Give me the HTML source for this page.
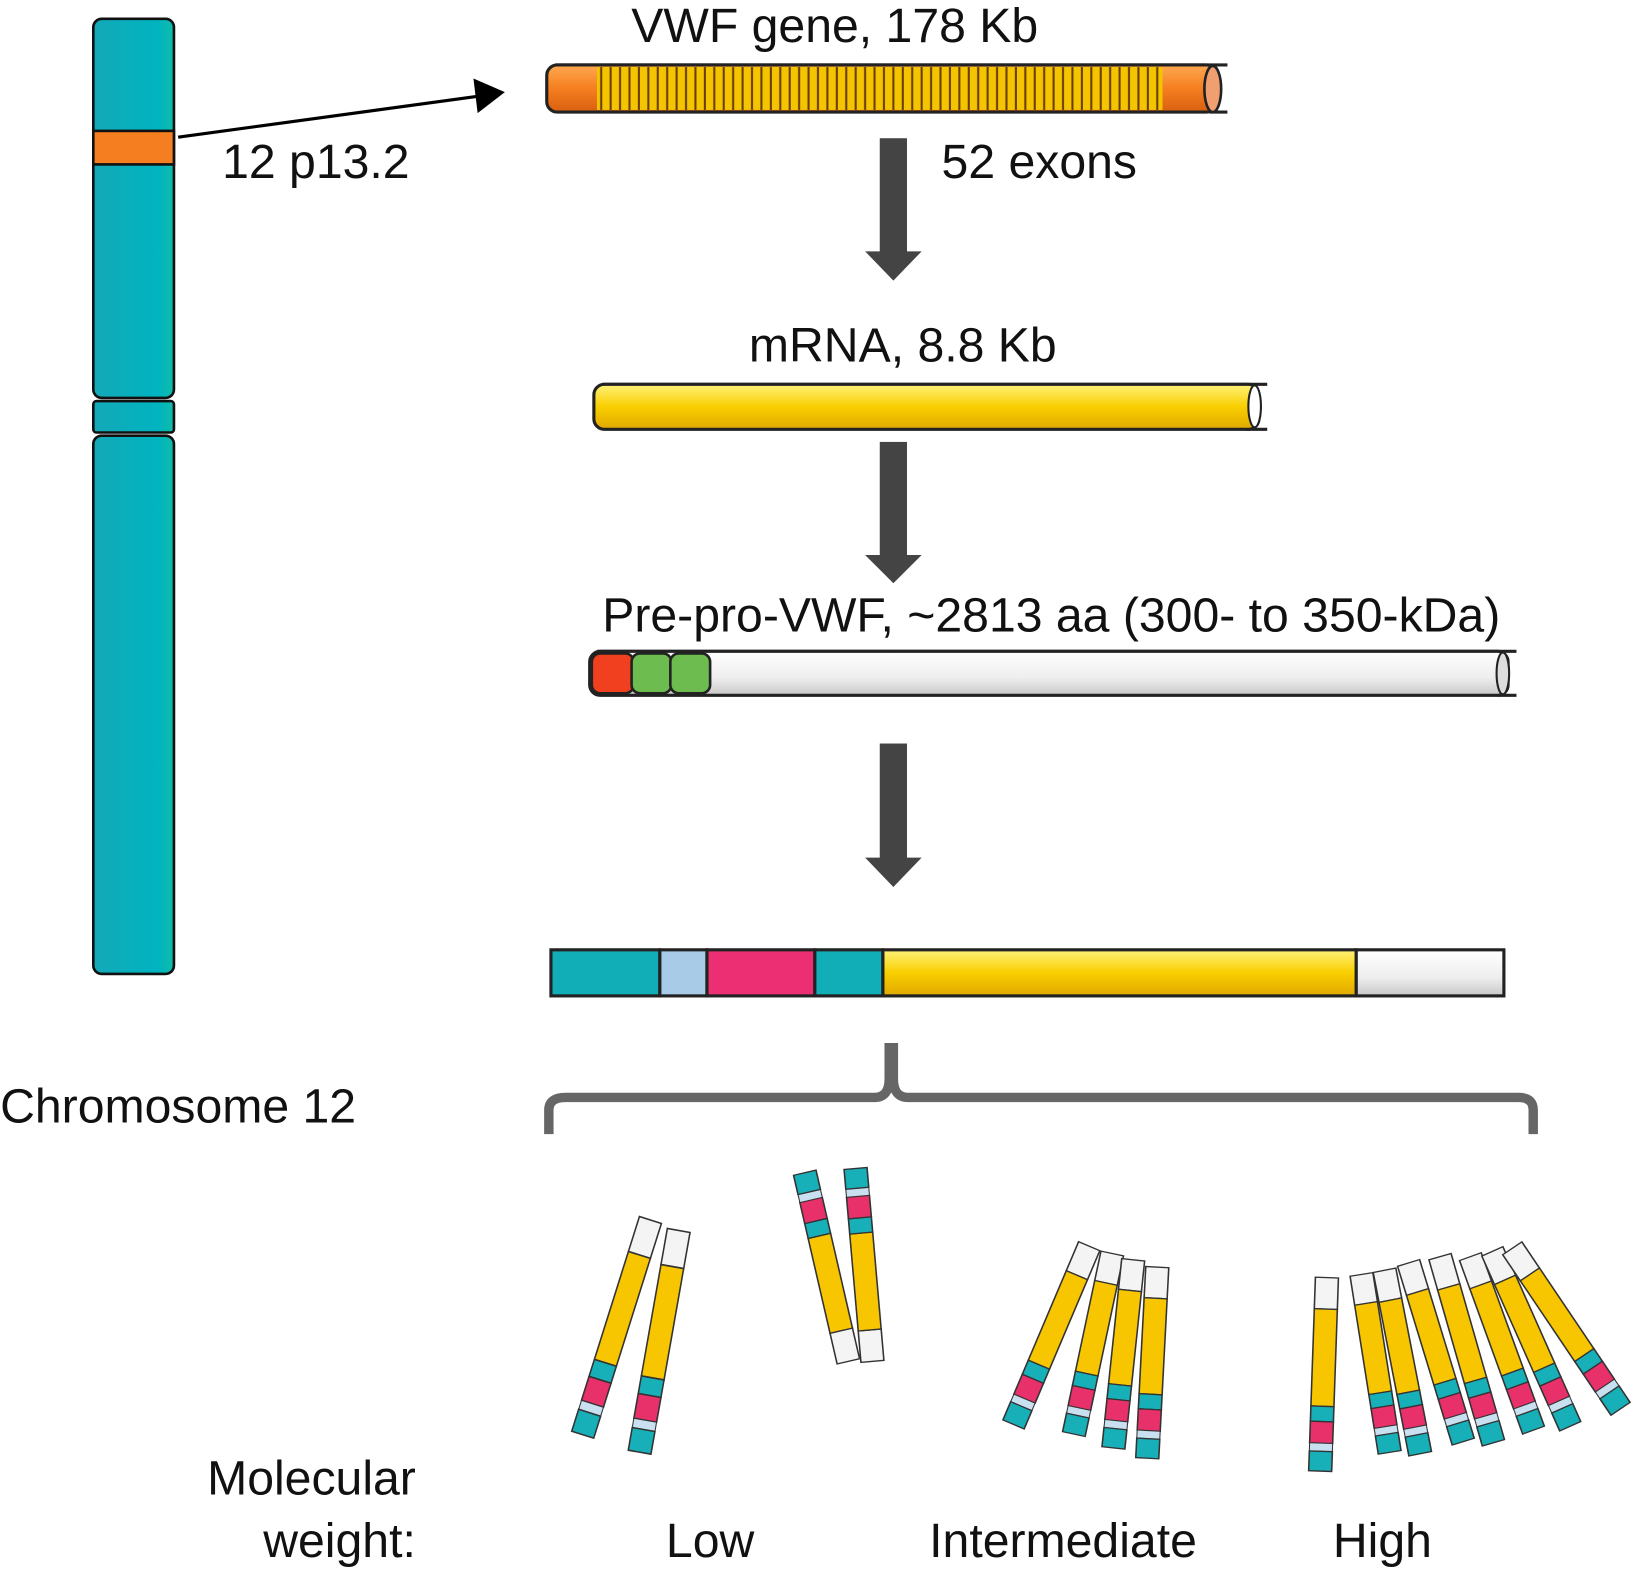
<!DOCTYPE html>
<html><head><meta charset="utf-8"><style>html,body{margin:0;padding:0;background:#fff}svg{display:block}text{font-family:"Liberation Sans",Arial,sans-serif;fill:#111}</style></head><body>
<svg width="1637" height="1575" viewBox="0 0 1563 1504" xmlns="http://www.w3.org/2000/svg">
<defs>
<pattern id="str" x="0" y="0" width="9" height="50" patternUnits="userSpaceOnUse"><rect width="9" height="50" fill="#f5c400"/><rect x="6" width="2" height="50" fill="#6a4000"/></pattern>
<linearGradient id="gy" x1="0" y1="0" x2="0" y2="1"><stop offset="0" stop-color="#fff27a"/><stop offset=".5" stop-color="#f9cf00"/><stop offset="1" stop-color="#e0a800"/></linearGradient>
<linearGradient id="go" x1="0" y1="0" x2="0" y2="1"><stop offset="0" stop-color="#ffa850"/><stop offset=".5" stop-color="#f57f20"/><stop offset="1" stop-color="#d86010"/></linearGradient>
<linearGradient id="gw" x1="0" y1="0" x2="0" y2="1"><stop offset="0" stop-color="#fff"/><stop offset=".6" stop-color="#eee"/><stop offset="1" stop-color="#c8c8c8"/></linearGradient>
<linearGradient id="gt" x1="0" y1="0" x2="1" y2="0"><stop offset="0" stop-color="#14a8b8"/><stop offset=".8" stop-color="#00b4c0"/><stop offset="1" stop-color="#10bca8"/></linearGradient>
<g id="rod">
<rect x="-11" y="0" width="22" height="35" fill="#f4f4f4" stroke="#333" stroke-width="1.5"/>
<rect x="-11" y="35" width="22" height="108" fill="#f7c600" stroke="#333" stroke-width="1.5"/>
<rect x="-11" y="143" width="22" height="17" fill="#18b0b8" stroke="#333" stroke-width="1.5"/>
<rect x="-11" y="160" width="22" height="24" fill="#e8306a" stroke="#333" stroke-width="1.5"/>
<rect x="-11" y="184" width="22" height="9" fill="#c8e0f0" stroke="#333" stroke-width="1"/>
<rect x="-11" y="193" width="22" height="22" fill="#18b0b8" stroke="#333" stroke-width="1.5"/>
</g>
</defs>

<rect x="89" y="18" width="77" height="362" rx="8" fill="url(#gt)" stroke="#111" stroke-width="2.5"/>
<rect x="89" y="125" width="77" height="32" fill="#f57f20" stroke="#111" stroke-width="2.5"/>
<rect x="89" y="383" width="77" height="30" rx="3" fill="url(#gt)" stroke="#111" stroke-width="2.5"/>
<rect x="89" y="416" width="77" height="514" rx="8" fill="url(#gt)" stroke="#111" stroke-width="2.5"/>
<line x1="170" y1="131" x2="478" y2="89" stroke="#000" stroke-width="3"/>
<path d="M452,75 L482,88 L456,108z" fill="#000"/>
<text x="212" y="170" font-size="46">12 p13.2</text>

<text x="797" y="40" font-size="46" text-anchor="middle">VWF gene, 178 Kb</text>
<path d="M530,62 H1172 M1155,107 H1172" stroke="#222" stroke-width="3"/>
<rect x="522" y="62" width="640" height="45" rx="10" fill="url(#go)" stroke="#222" stroke-width="3"/>
<rect x="570" y="64" width="540" height="41" fill="url(#str)"/>
<ellipse cx="1158" cy="85" rx="8" ry="22" fill="#f0a070" stroke="#222" stroke-width="2.5"/>

<g fill="#444">
<rect x="840" y="132" width="26" height="110"/><path d="M826,240 H880 L853,268z"/>
<rect x="840" y="422" width="26" height="110"/><path d="M826,530 H880 L853,557z"/>
<rect x="840" y="710" width="26" height="110"/><path d="M826,819 H880 L853,847z"/>
</g>
<text x="899" y="170" font-size="46">52 exons</text>

<text x="862" y="345" font-size="46" text-anchor="middle">mRNA, 8.8 Kb</text>
<path d="M575,367 H1210 M1190,410 H1210" stroke="#222" stroke-width="3"/>
<rect x="567" y="367" width="635" height="43" rx="10" fill="url(#gy)" stroke="#222" stroke-width="3"/>
<ellipse cx="1198" cy="388" rx="6" ry="20" fill="#fff" stroke="#222" stroke-width="2"/>

<text x="575" y="603" font-size="46">Pre-pro-VWF, ~2813 aa (300- to 350-kDa)</text>
<path d="M570,622 H1448 M1430,664 H1448" stroke="#222" stroke-width="3"/>
<rect x="563" y="622" width="877" height="42" rx="10" fill="url(#gw)" stroke="#222" stroke-width="3"/>
<rect x="565" y="624" width="40" height="38" rx="8" fill="#f04020" stroke="#222" stroke-width="2.5"/>
<rect x="603" y="624" width="38" height="38" rx="8" fill="#6cbc50" stroke="#222" stroke-width="2.5"/>
<rect x="640" y="624" width="38" height="38" rx="8" fill="#6cbc50" stroke="#222" stroke-width="2.5"/>
<ellipse cx="1435" cy="643" rx="6" ry="20" fill="#ddd" stroke="#222" stroke-width="2"/>

<g stroke="#222" stroke-width="3">
<rect x="526" y="907" width="104" height="44" fill="#12aeb8"/>
<rect x="630" y="907" width="45" height="44" fill="#a8cce8"/>
<rect x="675" y="907" width="103" height="44" fill="#ec2e72"/>
<rect x="778" y="907" width="65" height="44" fill="#12aeb8"/>
<rect x="843" y="907" width="452" height="44" fill="url(#gy)"/>
<rect x="1295" y="907" width="141" height="44" fill="url(#gw)"/>
</g>

<path d="M524,1083 V1060 Q524,1048 540,1048 H835 Q849,1048 849,1030 V996 M853,996 V1030 Q853,1048 867,1048 H1450 Q1464,1048 1464,1060 V1083" fill="none" stroke="#666" stroke-width="9"/>

<text x="0" y="1072" font-size="46">Chromosome 12</text>
<text x="397" y="1427" font-size="46" text-anchor="end">Molecular</text>
<text x="397" y="1487" font-size="46" text-anchor="end">weight:</text>
<text x="678" y="1487" font-size="46" text-anchor="middle">Low</text>
<text x="1015" y="1487" font-size="46" text-anchor="middle">Intermediate</text>
<text x="1320" y="1487" font-size="46" text-anchor="middle">High</text>

<use href="#rod" transform="translate(621,1165) rotate(17.5)"/>
<use href="#rod" transform="translate(648,1175) rotate(10)"/>
<use href="#rod" transform="translate(810,1300) rotate(167) scale(1,0.86)"/>
<use href="#rod" transform="translate(833,1300) rotate(175) scale(1,0.86)"/>

<use href="#rod" transform="translate(1040,1190) rotate(23) scale(1,0.86)"/>
<use href="#rod" transform="translate(1062,1197) rotate(12) scale(1,0.82)"/>
<use href="#rod" transform="translate(1082,1203) rotate(6) scale(1,0.84)"/>
<use href="#rod" transform="translate(1105,1210) rotate(3) scale(1,0.85)"/>

<use href="#rod" transform="translate(1267,1220) rotate(2) scale(1,0.86)"/>
<use href="#rod" transform="translate(1300,1217) rotate(-9) scale(1,0.8)"/>
<use href="#rod" transform="translate(1322,1213) rotate(-11) scale(1,0.83)"/>
<use href="#rod" transform="translate(1345,1206) rotate(-17) scale(1,0.83)"/>
<use href="#rod" transform="translate(1375,1200) rotate(-16) scale(1,0.86)"/>
<use href="#rod" transform="translate(1404,1200) rotate(-20) scale(1,0.82)"/>
<use href="#rod" transform="translate(1425,1195) rotate(-24) scale(1,0.85)"/>
<use href="#rod" transform="translate(1444,1192) rotate(-34) scale(1,0.86)"/>
</svg>
</body></html>
